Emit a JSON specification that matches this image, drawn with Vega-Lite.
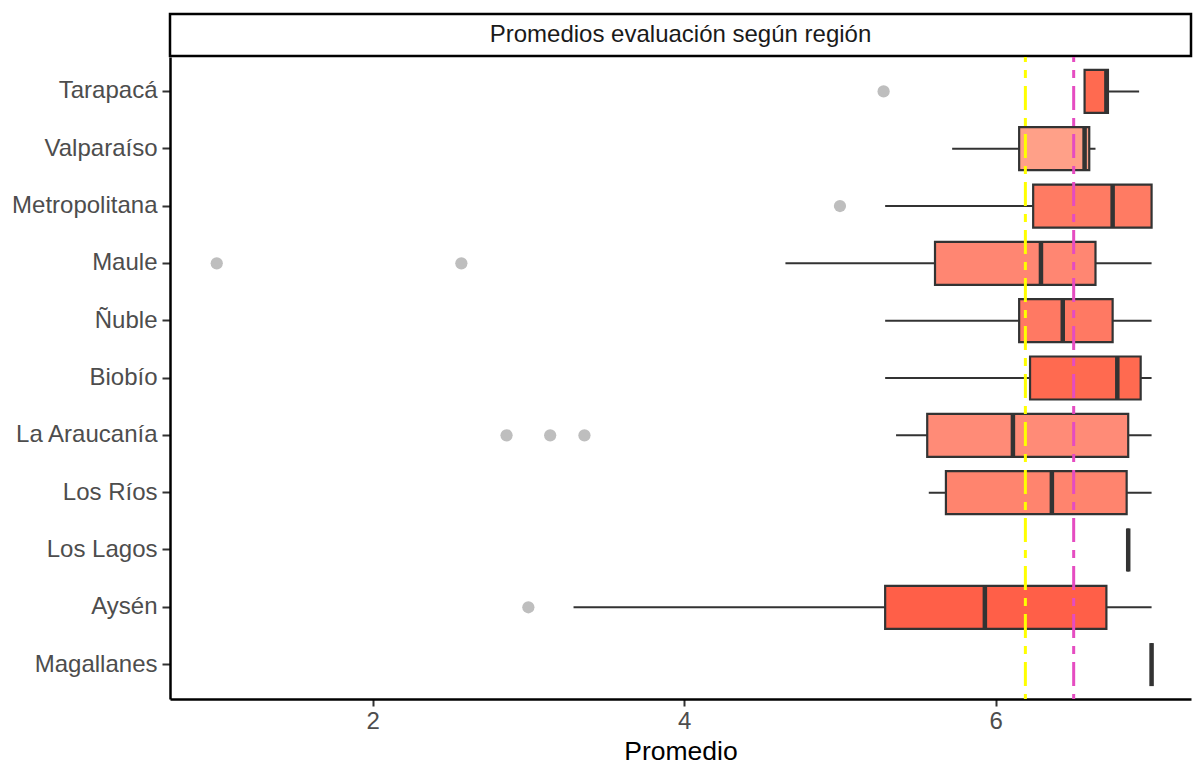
{
  "$schema": "https://vega.github.io/schema/vega-lite/v6.json",
  "autosize": {"type": "pad"},
  "padding": {"left": 5, "top": 12, "right": 0, "bottom": 8},
  "background": "white",
  "config": {
    "font": "Liberation Sans",
    "view": {"stroke": null},
    "axis": {"grid": false, "labelFont": "Liberation Sans", "titleFont": "Liberation Sans"}
  },
  "datasets": {
    "strip": [{"label": "Promedios evaluación según región"}],
    "boxes": [
      {"region": "Tarapacá", "lower": 6.57, "q1": 6.57, "median": 6.71, "q3": 6.72, "upper": 6.92},
      {"region": "Valparaíso", "lower": 5.72, "q1": 6.15, "median": 6.57, "q3": 6.6, "upper": 6.64},
      {"region": "Metropolitana", "lower": 5.29, "q1": 6.24, "median": 6.75, "q3": 7.0, "upper": 7.0},
      {"region": "Maule", "lower": 4.65, "q1": 5.61, "median": 6.29, "q3": 6.64, "upper": 7.0},
      {"region": "Ñuble", "lower": 5.29, "q1": 6.15, "median": 6.43, "q3": 6.75, "upper": 7.0},
      {"region": "Biobío", "lower": 5.29, "q1": 6.22, "median": 6.78, "q3": 6.93, "upper": 7.0},
      {"region": "La Araucanía", "lower": 5.36, "q1": 5.56, "median": 6.11, "q3": 6.85, "upper": 7.0},
      {"region": "Los Ríos", "lower": 5.57, "q1": 5.68, "median": 6.36, "q3": 6.84, "upper": 7.0},
      {"region": "Los Lagos", "lower": 6.85, "q1": 6.85, "median": 6.85, "q3": 6.85, "upper": 6.85},
      {"region": "Aysén", "lower": 3.29, "q1": 5.29, "median": 5.93, "q3": 6.71, "upper": 7.0},
      {"region": "Magallanes", "lower": 7.0, "q1": 7.0, "median": 7.0, "q3": 7.0, "upper": 7.0}
    ],
    "outliers": [
      {"region": "Tarapacá", "value": 5.28},
      {"region": "Metropolitana", "value": 5.0},
      {"region": "Maule", "value": 1.0},
      {"region": "Maule", "value": 2.57},
      {"region": "La Araucanía", "value": 2.86},
      {"region": "La Araucanía", "value": 3.14},
      {"region": "La Araucanía", "value": 3.36},
      {"region": "Aysén", "value": 3.0}
    ],
    "lines": [
      {"line": "general", "value": 6.19},
      {"line": "region", "value": 6.5}
    ]
  },
  "spacing": 1,
  "bounds": "flush",
  "vconcat": [
    {
      "width": 1021,
      "height": 42,
      "data": {"name": "strip"},
      "view": {"stroke": "black", "strokeWidth": 2.5, "fill": "white"},
      "mark": {"type": "text", "fontSize": 24, "color": "#1A1A1A", "align": "center", "baseline": "middle"},
      "encoding": {"text": {"field": "label", "type": "nominal"}}
    },
    {
      "width": 1021,
      "height": 642,
      "layer": [
        {
          "data": {"name": "boxes"},
          "mark": {"type": "rule", "color": "#333333", "strokeWidth": 2},
          "encoding": {
            "y": {
              "field": "region", "type": "nominal", "title": null,
              "scale": {"domain": ["Tarapacá", "Valparaíso", "Metropolitana", "Maule", "Ñuble", "Biobío", "La Araucanía", "Los Ríos", "Los Lagos", "Aysén", "Magallanes"], "paddingInner": 0, "paddingOuter": 0.1},
              "axis": {"title": null, "labelFontSize": 24, "labelColor": "#4D4D4D", "tickColor": "#333333", "tickSize": 8, "tickWidth": 2, "labelPadding": 5, "domainColor": "black", "domainWidth": 2.5, "minExtent": 165, "maxExtent": 165}
            },
            "x": {
              "field": "lower", "type": "quantitative", "title": "Promedio",
              "scale": {"domain": [0.7, 7.253], "nice": false, "zero": false},
              "axis": {"values": [2, 4, 6], "format": "d", "labelFontSize": 24, "labelColor": "#4D4D4D", "tickColor": "#333333", "tickSize": 7, "tickWidth": 2, "labelPadding": 3, "domainColor": "black", "domainWidth": 2.5, "titleFontSize": 26.5, "titleColor": "black", "titleFontWeight": "normal", "titlePadding": 5}
            },
            "x2": {"field": "upper"}
          }
        },
        {
          "data": {"name": "boxes"},
          "mark": {"type": "bar", "stroke": "#333333", "strokeWidth": 2.2, "size": 43},
          "encoding": {
            "y": {"field": "region", "type": "nominal", "title": null},
            "x": {"field": "q1", "type": "quantitative", "title": "Promedio"},
            "x2": {"field": "q3"},
            "fill": {
              "field": "region", "type": "nominal", "legend": null,
              "scale": {
                "domain": ["Tarapacá", "Valparaíso", "Metropolitana", "Maule", "Ñuble", "Biobío", "La Araucanía", "Los Ríos", "Los Lagos", "Aysén", "Magallanes"],
                "range": ["#FF6A50", "#FFA088", "#FF7B63", "#FF8672", "#FF7963", "#FF6A50", "#FF8B77", "#FF846E", "#FF8A75", "#FF5F48", "#FF7060"]
              }
            }
          }
        },
        {
          "data": {"name": "boxes"},
          "mark": {"type": "tick", "color": "#333333", "thickness": 4.5, "size": 43, "opacity": 1},
          "encoding": {
            "y": {"field": "region", "type": "nominal", "title": null},
            "x": {"field": "median", "type": "quantitative", "title": "Promedio"}
          }
        },
        {
          "data": {"name": "outliers"},
          "mark": {"type": "point", "filled": true, "color": "#BEBEBE", "size": 150, "opacity": 1},
          "encoding": {
            "y": {"field": "region", "type": "nominal", "title": null},
            "x": {"field": "value", "type": "quantitative", "title": "Promedio"}
          }
        },
        {
          "data": {"name": "lines"},
          "mark": {"type": "rule", "strokeWidth": 3, "strokeDash": [8, 8, 24, 8], "strokeDashOffset": 35},
          "encoding": {
            "x": {"field": "value", "type": "quantitative", "title": "Promedio"},
            "color": {"field": "line", "type": "nominal", "legend": null, "scale": {"domain": ["general", "region"], "range": ["#FFFF00", "#E54CC1"]}}
          }
        }
      ]
    }
  ]
}
